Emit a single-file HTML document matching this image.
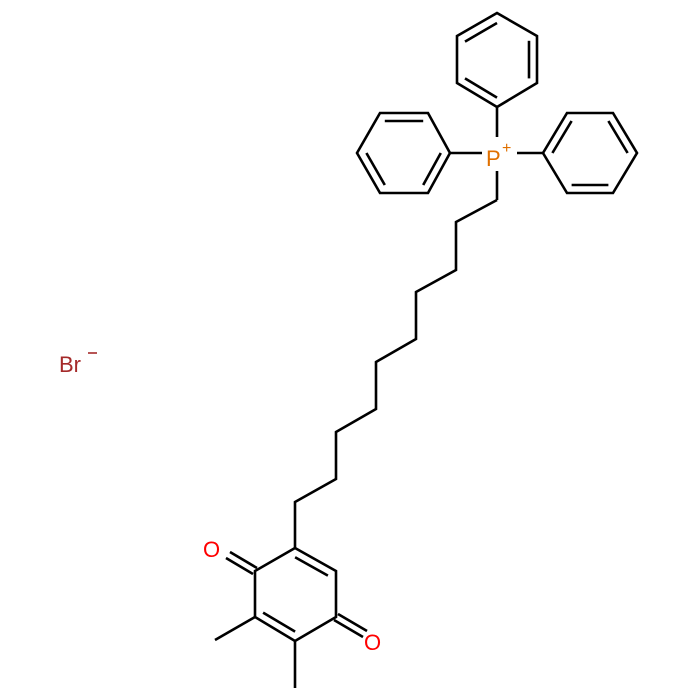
<!DOCTYPE html>
<html><head><meta charset="utf-8"><style>html,body{margin:0;padding:0;background:#fff}svg{display:block}
text{font-family:"Liberation Sans",Arial,sans-serif}
.p{fill:#e07000;font-size:22px}.pp{fill:#e07000;font-size:16px}.o{fill:#ff0000;font-size:22px}.br{fill:#a52a2a;font-size:22px}
</style></head>
<body>
<svg width="700" height="700" viewBox="0 0 700 700" xmlns="http://www.w3.org/2000/svg">
<g stroke="#000" stroke-width="2.6" fill="none" stroke-linejoin="miter" stroke-linecap="butt">
<polygon points="497,107 537,83 537,36 497,13 457,36 457,83"/>
<line x1="465" y1="41.6" x2="497" y2="23"/>
<line x1="529" y1="40.8" x2="529" y2="78.4"/>
<line x1="465" y1="78.4" x2="497" y2="97.6"/>
<polygon points="450,153 428,113 380,113 357,153 380,193 428,193"/>
<line x1="384.8" y1="121" x2="423.2" y2="121"/>
<line x1="366.4" y1="153" x2="384.8" y2="185"/>
<line x1="423.2" y1="185" x2="440.8" y2="153"/>
<polygon points="543,153 567,113 613,113 637,153 613,193 567,193"/>
<line x1="552.4" y1="153" x2="571.6" y2="121"/>
<line x1="608.4" y1="121" x2="627.6" y2="153"/>
<line x1="571.6" y1="185" x2="608.4" y2="185"/>
<line x1="497" y1="107" x2="497" y2="137"/>
<line x1="450" y1="153" x2="482" y2="153"/>
<line x1="517" y1="153" x2="543" y2="153"/>
<line x1="497" y1="171" x2="497" y2="200"/>
<polyline points="497,200 456,222 456,270 416,292 416,339 376,362 376,409 336,432 336,479 295,502 295,548"/>
<polygon points="295,548 336,571 336,617 295,641 255,617 255,571"/>
<line x1="295.1" y1="557.2" x2="327.9" y2="575.6"/>
<line x1="263.1" y1="612.6" x2="295.1" y2="631.6"/>
<line x1="253" y1="574" x2="226" y2="558"/>
<line x1="257" y1="568" x2="230" y2="552"/>
<line x1="334" y1="620" x2="363" y2="637"/>
<line x1="338" y1="614" x2="367" y2="631"/>
<line x1="255" y1="617" x2="215" y2="640"/>
<line x1="295" y1="641" x2="295" y2="688"/>
</g>
<text x="486" y="166" class="p">P</text>
<text x="502" y="153" class="pp">+</text>
<text x="203" y="557" class="o">O</text>
<text x="364" y="650" class="o">O</text>
<text x="59" y="372" class="br">Br</text>
<line x1="88" y1="353" x2="97" y2="353" stroke="#a52a2a" stroke-width="1.6"/>
</svg>
</body></html>
